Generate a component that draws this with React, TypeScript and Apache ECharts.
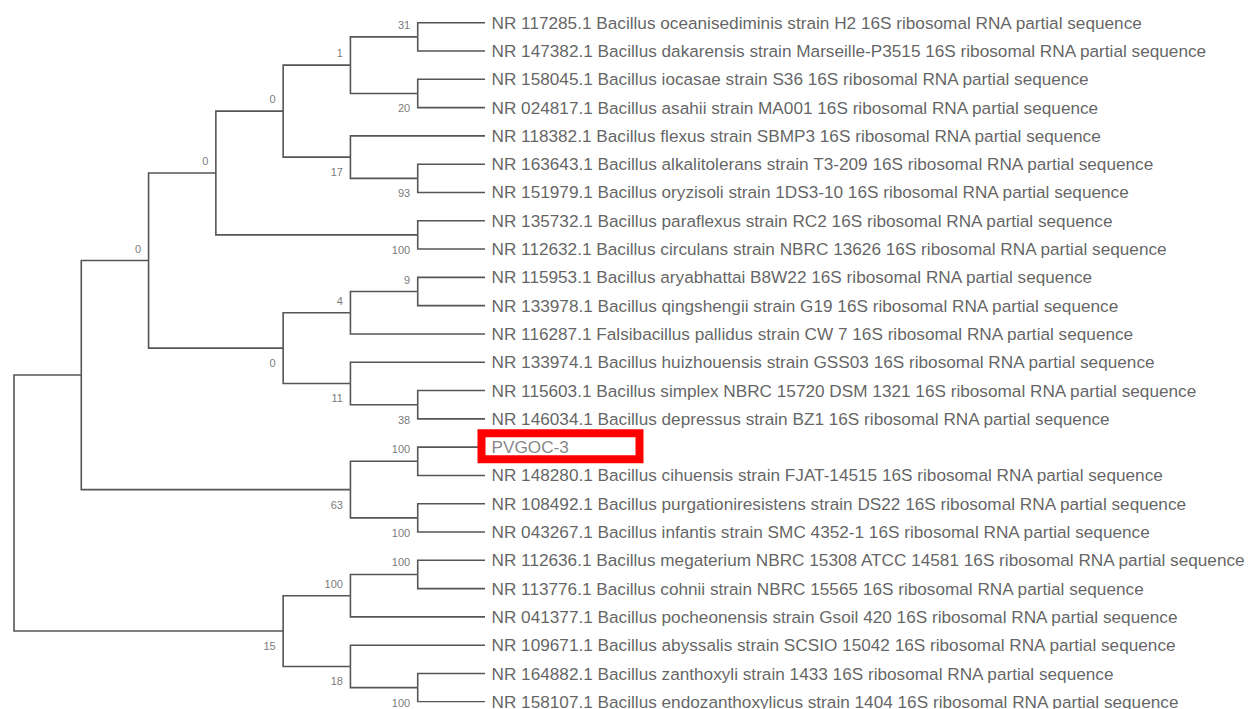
import React, { useEffect, useRef } from "react";
import * as echarts from "echarts";

// Leaf labels, top to bottom
const leafNames: string[] = [
  "NR 117285.1 Bacillus oceanisediminis strain H2 16S ribosomal RNA partial sequence",
  "NR 147382.1 Bacillus dakarensis strain Marseille-P3515 16S ribosomal RNA partial sequence",
  "NR 158045.1 Bacillus iocasae strain S36 16S ribosomal RNA partial sequence",
  "NR 024817.1 Bacillus asahii strain MA001 16S ribosomal RNA partial sequence",
  "NR 118382.1 Bacillus flexus strain SBMP3 16S ribosomal RNA partial sequence",
  "NR 163643.1 Bacillus alkalitolerans strain T3-209 16S ribosomal RNA partial sequence",
  "NR 151979.1 Bacillus oryzisoli strain 1DS3-10 16S ribosomal RNA partial sequence",
  "NR 135732.1 Bacillus paraflexus strain RC2 16S ribosomal RNA partial sequence",
  "NR 112632.1 Bacillus circulans strain NBRC 13626 16S ribosomal RNA partial sequence",
  "NR 115953.1 Bacillus aryabhattai B8W22 16S ribosomal RNA partial sequence",
  "NR 133978.1 Bacillus qingshengii strain G19 16S ribosomal RNA partial sequence",
  "NR 116287.1 Falsibacillus pallidus strain CW 7 16S ribosomal RNA partial sequence",
  "NR 133974.1 Bacillus huizhouensis strain GSS03 16S ribosomal RNA partial sequence",
  "NR 115603.1 Bacillus simplex NBRC 15720 DSM 1321 16S ribosomal RNA partial sequence",
  "NR 146034.1 Bacillus depressus strain BZ1 16S ribosomal RNA partial sequence",
  "PVGOC-3",
  "NR 148280.1 Bacillus cihuensis strain FJAT-14515 16S ribosomal RNA partial sequence",
  "NR 108492.1 Bacillus purgationiresistens strain DS22 16S ribosomal RNA partial sequence",
  "NR 043267.1 Bacillus infantis strain SMC 4352-1 16S ribosomal RNA partial sequence",
  "NR 112636.1 Bacillus megaterium NBRC 15308 ATCC 14581 16S ribosomal RNA partial sequence",
  "NR 113776.1 Bacillus cohnii strain NBRC 15565 16S ribosomal RNA partial sequence",
  "NR 041377.1 Bacillus pocheonensis strain Gsoil 420 16S ribosomal RNA partial sequence",
  "NR 109671.1 Bacillus abyssalis strain SCSIO 15042 16S ribosomal RNA partial sequence",
  "NR 164882.1 Bacillus zanthoxyli strain 1433 16S ribosomal RNA partial sequence",
  "NR 158107.1 Bacillus endozanthoxylicus strain 1404 16S ribosomal RNA partial sequence",
];

// Internal clades (topology) and their bootstrap values
const cladeIds: string[] = [
  "G", "H", "F", "J", "I", "E", "K", "D", "N", "M", "P", "O", "L", "C",
  "R", "S", "Q", "A", "U", "T", "W", "V", "B", "root",
];
const cladeChildren: (string | number)[][] = [
  [0, 1], [2, 3], ["G", "H"], [5, 6], [4, "J"], ["F", "I"], [7, 8], ["E", "K"],
  [9, 10], ["N", 11], [13, 14], [12, "P"], ["M", "O"], ["D", "L"],
  [15, 16], [17, 18], ["R", "S"], ["C", "Q"],
  [19, 20], ["U", 21], [23, 24], [22, "W"], ["T", "V"], ["A", "B"],
];
const bootstrap: (number | null)[] = [
  31, 20, 1, 93, 17, 0, 100, 0, 9, 4, 38, 11, 0, 0,
  100, 100, 63, null, 100, 100, 100, 18, 15, null,
];
const highlightLeaf = "PVGOC-3";

type NodeInfo = { h: number; y: number; parent?: string };

function buildTree() {
  const info: Record<string, NodeInfo> = {};
  leafNames.forEach((_, i) => (info["L" + i] = { h: 0, y: i }));
  const key = (c: string | number) => (typeof c === "number" ? "L" + c : c);
  cladeIds.forEach((id, k) => {
    const ch = cladeChildren[k].map(key);
    const hs = ch.map((c) => info[c].h);
    const ys = ch.map((c) => info[c].y);
    info[id] = { h: Math.max(...hs) + 1, y: (Math.min(...ys) + Math.max(...ys)) / 2 };
    ch.forEach((c) => (info[c].parent = id));
  });
  const segments: { coords: number[][] }[] = [];
  cladeIds.forEach((id, k) => {
    const n = info[id];
    cladeChildren[k].map(key).forEach((c) => {
      const cn = info[c];
      segments.push({ coords: [[n.h, n.y], [n.h, cn.y], [cn.h, cn.y]] });
    });
  });
  const supports: any[] = [];
  cladeIds.forEach((id, k) => {
    const b = bootstrap[k];
    const n = info[id];
    if (b === null || !n.parent) return;
    const upper = n.y < info[n.parent].y;
    supports.push({
      value: [n.h, n.y],
      label: { formatter: String(b), offset: [0, upper ? -12 : 15], color: "#555555" },
    });
  });
  return { segments, supports };
}

export default function App() {
  const ref = useRef<HTMLDivElement>(null);
  useEffect(() => {
    if (!ref.current) return;
    const chart = echarts.init(ref.current, undefined, { renderer: "svg" });
    const { segments, supports } = buildTree();
    const font = "'Liberation Sans', Arial, sans-serif";
    chart.setOption({
      animation: false,
      backgroundColor: "#ffffff",
      grid: { left: 14, right: 765, top: 22.7, bottom: 7.2, containLabel: false },
      xAxis: { type: "value", min: 0, max: 7, inverse: true, show: false },
      yAxis: { type: "value", min: 0, max: leafNames.length - 1, inverse: true, show: false },
      series: [
        {
          type: "lines",
          coordinateSystem: "cartesian2d",
          polyline: true,
          silent: true,
          lineStyle: { color: "#555555", width: 1.6, opacity: 1 },
          data: segments,
        },
        {
          type: "scatter",
          symbolSize: 1,
          itemStyle: { color: "rgba(0,0,0,0)" },
          silent: true,
          label: {
            show: true,
            position: "right",
            distance: 6,
            fontFamily: font,
            fontSize: 17.2,
            color: "#3a3a3a",
            formatter: (p: any) => leafNames[p.value[1]],
          },
          data: leafNames.map((n, i) => ({
            value: [0, i],
            label: n === highlightLeaf ? { color: "#666666", fontSize: 17.2 } : undefined,
          })),
        },
        {
          type: "scatter",
          symbolSize: 1,
          itemStyle: { color: "rgba(0,0,0,0)" },
          silent: true,
          label: {
            show: true,
            position: "left",
            distance: 7,
            fontFamily: font,
            fontSize: 11,
            color: "#555555",
            textBorderWidth: 0,
          },
          data: supports,
        },
        {
          type: "custom",
          silent: true,
          clip: false,
          data: [[0, leafNames.indexOf(highlightLeaf)]],
          renderItem: (params: any, api: any) => {
            const p = api.coord([api.value(0), api.value(1)]);
            return {
              type: "rect",
              shape: { x: p[0] - 3.5, y: p[1] - 14, width: 158, height: 26 },
              style: { fill: "none", stroke: "#ff0000", lineWidth: 8 },
            };
          },
        },
      ],
    });
    return () => chart.dispose();
  }, []);
  return (
    <div
      ref={ref}
      style={{ position: "absolute", left: 0, top: 0, width: 1250, height: 709 }}
    />
  );
}
